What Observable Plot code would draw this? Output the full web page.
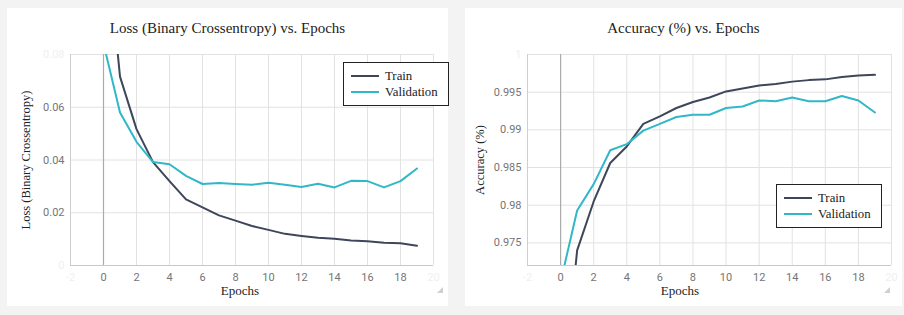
<!DOCTYPE html>
<html>
<head>
<meta charset="utf-8">
<script src="https://cdn.jsdelivr.net/npm/d3@7"></script>
<script src="https://cdn.jsdelivr.net/npm/@observablehq/plot@0.6"></script>
<style>
  html, body { margin: 0; padding: 0; }
  body { width: 904px; height: 315px; background: #f3f3f4; position: relative; overflow: hidden; }
  .card { position: absolute; top: 8px; height: 298px; background: #fff; }
  .title { position: absolute; top: 0; left: 0; right: 0; height: 40px; line-height: 40px; text-align: center;
           font-family: "Liberation Serif", "Times New Roman", serif; font-size: 15px; color: #222; }
  .card svg { position: absolute; left: 0; top: 40px; }
  .ylabel { position: absolute; transform: translate(-50%, -50%) rotate(-90deg); white-space: nowrap;
            font-family: "Liberation Serif", serif; font-size: 12.5px; color: #222; }
  .xlabel { position: absolute; transform: translate(-50%, -50%); white-space: nowrap;
            font-family: "Liberation Serif", serif; font-size: 13px; color: #222; }
  .legend { position: absolute; background: #fff; border: 1.3px solid #222; padding: 5px 10px 5px 7px;
            font-family: "Liberation Serif", serif; font-size: 12.8px; color: #222; }
  .legend .row { height: 16px; line-height: 16px; display: flex; align-items: center; }
  .legend .sw { width: 28px; height: 2.2px; margin-right: 6px; }
  .grip { position: absolute; width: 0; height: 0; border-left: 6px solid transparent; border-bottom: 6px solid #cfcfcf; }
</style>
</head>
<body>
<div class="card" id="lossCard" style="left:7px; width:441px;">
  <div class="title">Loss (Binary Crossentropy) vs. Epochs</div>
  <div class="ylabel" style="left:19px; top:152px;">Loss (Binary Crossentropy)</div>
  <div class="xlabel" style="left:233px; top:283px;">Epochs</div>
  <div class="grip" style="left:430px; top:279px;"></div>
</div>
<div class="card" id="accCard" style="left:465px; width:437px;">
  <div class="title">Accuracy (%) vs. Epochs</div>
  <div class="ylabel" style="left:15px; top:152px;">Accuracy (%)</div>
  <div class="xlabel" style="left:215px; top:283px;">Epochs</div>
  <div class="grip" style="left:419px; top:279px;"></div>
</div>
<script>
// ---- data ----
const epochs = [0,1,2,3,4,5,6,7,8,9,10,11,12,13,14,15,16,17,18,19];
const seriesNames = ["Train", "Validation"];
const trainLoss = [0.136, 0.0716, 0.0517, 0.0392, 0.032, 0.0251, 0.022, 0.019, 0.017, 0.015, 0.0135, 0.012, 0.0112, 0.0105, 0.0101, 0.0095, 0.0092, 0.0086, 0.0084, 0.0075];
const valLoss   = [0.0842, 0.058, 0.0469, 0.0392, 0.0384, 0.034, 0.0309, 0.0313, 0.0309, 0.0306, 0.0314, 0.0306, 0.0298, 0.031, 0.0296, 0.0321, 0.032, 0.0296, 0.032, 0.0368];
const trainAcc  = [0.9518, 0.974, 0.9805, 0.9856, 0.9878, 0.9908, 0.9918, 0.9929, 0.9937, 0.9943, 0.9951, 0.9955, 0.9959, 0.9961, 0.9964, 0.9966, 0.9967, 0.997, 0.9972, 0.9973];
const valAcc    = [0.9698, 0.9793, 0.9828, 0.9873, 0.9881, 0.9899, 0.9908, 0.9917, 0.992, 0.992, 0.9929, 0.9931, 0.9939, 0.9938, 0.9943, 0.9938, 0.9938, 0.9945, 0.9939, 0.9923];
const xTicks = [0,2,4,6,8,10,12,14,16,18];
const xEdgeTicks = [-2, 20];
const xGrid = [-2,0,2,4,6,8,10,12,14,16,18,20];
const lossYTicks = [0.02, 0.04, 0.06];
const lossYEdge = [0, 0.08];
const lossYGrid = [0.02, 0.04, 0.06, 0.08];
const accYTicks = [0.975, 0.98, 0.985, 0.99, 0.995];
const accYEdge = [1];
const accYGrid = [0.975, 0.98, 0.985, 0.99, 0.995, 1];
const colors = ["#3d4759", "#30b8c9"];

function toRows(a, b) {
  return epochs.flatMap((e, i) => [
    {epoch: e, value: a[i], series: seriesNames[0]},
    {epoch: e, value: b[i], series: seriesNames[1]}
  ]);
}

function chart({width, marginLeft, marginRight, yDomain, yTicks, yEdge, yGrid, rows}) {
  return Plot.plot({
    width, height: 258,
    marginLeft, marginRight, marginTop: 6, marginBottom: 41,
    x: {domain: [-2, 20]},
    y: {domain: yDomain},
    color: {domain: seriesNames, range: colors},
    style: {fontFamily: "Roboto, sans-serif", fontSize: "11px", color: "#757575", background: "transparent", overflow: "visible"},
    marks: [
      Plot.ruleX(xGrid, {stroke: "#e2e2e2", strokeWidth: 1}),
      Plot.ruleY(yGrid, {stroke: "#e2e2e2", strokeWidth: 1}),
      Plot.ruleY([yDomain[0]], {stroke: "#c8c8c8", strokeWidth: 1}),
      Plot.ruleX([-2], {stroke: "#cfcfcf", strokeWidth: 1}),
      Plot.ruleX([0], {stroke: "#ababab", strokeWidth: 1.2}),
      Plot.axisX(xTicks, {tickSize: 0, tickPadding: 8, label: null, fill: "#757575", tickFormat: d => String(d)}),
      Plot.axisX(xEdgeTicks, {tickSize: 0, tickPadding: 8, label: null, fill: "#efefef", tickFormat: d => String(d)}),
      Plot.axisY(yTicks, {tickSize: 0, tickPadding: 6, label: null, fill: "#757575", tickFormat: d => String(d)}),
      Plot.axisY(yEdge, {tickSize: 0, tickPadding: 6, label: null, fill: "#efefef", tickFormat: d => String(d)}),
      Plot.line(rows, {x: "epoch", y: "value", stroke: "series", z: "series", strokeWidth: 2, clip: true})
    ]
  });
}

function legend(card, left, top) {
  const box = document.createElement("div");
  box.className = "legend";
  box.style.left = left + "px";
  box.style.top = top + "px";
  seriesNames.forEach((name, i) => {
    const row = document.createElement("div");
    row.className = "row";
    const sw = document.createElement("span");
    sw.className = "sw";
    sw.style.background = colors[i];
    const t = document.createElement("span");
    t.textContent = name;
    row.appendChild(sw); row.appendChild(t);
    box.appendChild(row);
  });
  card.appendChild(box);
}

const lossCard = document.getElementById("lossCard");
lossCard.appendChild(chart({width: 441, marginLeft: 63, marginRight: 15, yDomain: [0, 0.08], yTicks: lossYTicks, yEdge: lossYEdge, yGrid: lossYGrid, rows: toRows(trainLoss, valLoss)}));
legend(lossCard, 336, 54);

const accCard = document.getElementById("accCard");
accCard.appendChild(chart({width: 437, marginLeft: 62, marginRight: 11, yDomain: [0.972, 1.0], yTicks: accYTicks, yEdge: accYEdge, yGrid: accYGrid, rows: toRows(trainAcc, valAcc)}));
legend(accCard, 311, 176);
</script>
</body>
</html>
